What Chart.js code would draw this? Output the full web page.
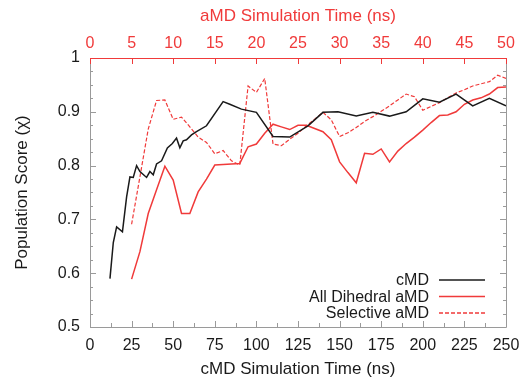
<!DOCTYPE html>
<html>
<head>
<meta charset="utf-8">
<script src="https://cdn.jsdelivr.net/npm/chart.js@4/dist/chart.umd.min.js"></script>
<style>
  body { margin: 0; background: #fff; }
</style>
</head>
<body>
<canvas id="population-chart" width="521" height="379"></canvas>
<script>
// cMD run, bottom axis (ns)
const cmdTime = [12, 14, 16, 19.5, 22, 24, 26, 28, 30, 34, 36, 38, 40, 43, 46.5, 49.5, 52, 54, 56, 58, 61, 64, 70,
    80, 84, 91, 100, 110, 120, 131, 140, 149, 160, 170, 180, 190, 200, 210, 220, 230, 240, 250];
const cmdScore = [0.590, 0.657, 0.686, 0.677, 0.742, 0.779, 0.778, 0.800, 0.789, 0.778, 0.789, 0.783, 0.803, 0.809,
    0.833, 0.841, 0.851, 0.833, 0.846, 0.848, 0.857, 0.863, 0.874,
    0.919, 0.914, 0.905, 0.899, 0.854, 0.853, 0.874, 0.899, 0.900, 0.892, 0.899, 0.892, 0.900, 0.924, 0.918,
    0.933, 0.911, 0.925, 0.911];

// aMD runs, top axis (ns)
const amdTime = [5, 6, 7, 8, 9, 10, 11, 12, 13, 14, 15, 16, 17, 18, 19, 20, 21, 22, 23, 24, 25, 26, 27, 28, 29,
    30, 31, 32, 33, 34, 35, 36, 37, 38, 39, 40, 41, 42, 43, 44, 45, 46, 47, 48, 49, 50];
const dihedralScore = [0.589, 0.640, 0.711, 0.755, 0.799, 0.773, 0.711, 0.711, 0.751, 0.775, 0.801, 0.802, 0.803,
    0.804, 0.835, 0.840, 0.860, 0.877, 0.872, 0.867, 0.875, 0.875, 0.869, 0.863, 0.848,
    0.807, 0.787, 0.768, 0.823, 0.821, 0.831, 0.807, 0.827, 0.841, 0.853, 0.866, 0.880, 0.893, 0.894, 0.900,
    0.914, 0.922, 0.926, 0.933, 0.945, 0.946];
const selectiveScore = [0.691, 0.779, 0.868, 0.921, 0.922, 0.886, 0.890, 0.872, 0.853, 0.843, 0.822, 0.828, 0.809,
    0.801, 0.948, 0.936, 0.962, 0.840, 0.837, 0.849, 0.860, 0.874, 0.886, 0.899, 0.885,
    0.854, 0.861, 0.871, 0.882, 0.891, 0.901, 0.911, 0.922, 0.933, 0.928, 0.903, 0.910, 0.917, 0.926, 0.935,
    0.941, 0.948, 0.952, 0.956, 0.968, 0.962];

const cmdTicks = [0, 25, 50, 75, 100, 125, 150, 175, 200, 225, 250];
const amdTicks = [0, 5, 10, 15, 20, 25, 30, 35, 40, 45, 50];
const yTicks = [0.5, 0.6, 0.7, 0.8, 0.9, 1];

const RED = '#f03a3a';
const GREY = '#9a9a9a';
const INK = '#1a1a1a';
const FONT = "'Liberation Sans', Arial, sans-serif";

const pts = (xs, ys) => xs.map((x, i) => ({x: x, y: ys[i]}));
const setTicks = list => scale => { scale.ticks = list.map(v => ({value: v})); };
// fixed axis box, no extra room for overhanging end labels
const fixSize = (w, h) => scale => {
    if (w) scale.width = w;
    if (h) scale.height = h;
    scale.paddingLeft = scale.paddingRight = scale.paddingTop = scale.paddingBottom = 0;
};

// gnuplot-style frame with inward ticks
const frameTicks = {
    id: 'frameTicks',
    afterDatasetsDraw(chart) {
        const {ctx, chartArea: {left, right, top, bottom}, scales} = chart;
        ctx.save();
        ctx.lineWidth = 1;
        ctx.strokeStyle = GREY;
        ctx.beginPath();
        // y ticks, both sides
        for (let v = 0.5; v <= 1.0001; v += 0.025) {
            const major = Math.abs(v * 10 - Math.round(v * 10)) < 1e-6;
            const len = major ? 6 : 3;
            const y = Math.round(scales.y.getPixelForValue(v)) + 0.5;
            ctx.moveTo(left, y); ctx.lineTo(left + len, y);
            ctx.moveTo(right, y); ctx.lineTo(right - len, y);
        }
        // bottom ticks
        for (let v = 0; v <= 250; v += 12.5) {
            const len = v % 25 === 0 ? 6 : 4;
            const x = Math.round(scales.x.getPixelForValue(v)) + 0.5;
            ctx.moveTo(x, bottom); ctx.lineTo(x, bottom - len);
        }
        ctx.moveTo(left + 0.5, top); ctx.lineTo(left + 0.5, bottom + 0.5);
        ctx.lineTo(right + 0.5, bottom + 0.5); ctx.lineTo(right + 0.5, top);
        ctx.stroke();

        ctx.strokeStyle = RED;
        ctx.beginPath();
        amdTicks.forEach(v => {
            const x = Math.round(scales.x2.getPixelForValue(v)) + 0.5;
            ctx.moveTo(x, top); ctx.lineTo(x, top + 6);
        });
        ctx.moveTo(left, top + 0.5); ctx.lineTo(right + 1, top + 0.5);
        ctx.stroke();
        ctx.restore();
    }
};

// key in the lower right, text before the line sample
const insideKey = {
    id: 'insideKey',
    afterDatasetsDraw(chart) {
        const {ctx, chartArea: {right, bottom}} = chart;
        ctx.save();
        ctx.font = '16px ' + FONT;
        ctx.textAlign = 'right';
        ctx.textBaseline = 'middle';
        chart.data.datasets.forEach((ds, i) => {
            const y = bottom - 47 + i * 16.5;
            ctx.fillStyle = INK;
            ctx.fillText(ds.label, right - 77, y + 1);
            ctx.strokeStyle = ds.borderColor;
            ctx.lineWidth = 1.5;
            ctx.setLineDash(ds.borderDash || []);
            ctx.beginPath();
            ctx.moveTo(right - 67, y);
            ctx.lineTo(right - 21, y);
            ctx.stroke();
        });
        ctx.restore();
    }
};

const ctx = document.getElementById('population-chart');

new Chart(ctx, {
    type: 'line',
    data: {
        datasets: [{
            label: 'cMD',
            data: pts(cmdTime, cmdScore),
            xAxisID: 'x',
            borderColor: INK,
            borderWidth: 1.5
        }, {
            label: 'All Dihedral aMD',
            data: pts(amdTime, dihedralScore),
            xAxisID: 'x2',
            borderColor: RED,
            borderWidth: 1.5
        }, {
            label: 'Selective aMD',
            data: pts(amdTime, selectiveScore),
            xAxisID: 'x2',
            borderColor: RED,
            borderWidth: 1.2,
            borderDash: [4, 2]
        }]
    },
    options: {
        responsive: false,
        animation: false,
        layout: {padding: {left: 0, right: 15, top: 0, bottom: 0}},
        elements: {point: {radius: 0}, line: {tension: 0, fill: false}},
        plugins: {legend: {display: false}, tooltip: {enabled: false}},
        scales: {
            x: {
                type: 'linear', position: 'bottom', min: 0, max: 250,
                afterBuildTicks: setTicks(cmdTicks),
                afterFit: fixSize(0, 52),
                grid: {display: false, drawTicks: false}, border: {display: false},
                ticks: {color: INK, padding: 9, maxRotation: 0, font: {family: FONT, size: 16}},
                title: {display: true, text: 'cMD Simulation Time (ns)', color: INK,
                    font: {family: FONT, size: 17}, padding: {top: 0, bottom: -1}}
            },
            x2: {
                type: 'linear', position: 'top', min: 0, max: 50,
                afterBuildTicks: setTicks(amdTicks),
                afterFit: fixSize(0, 58),
                grid: {display: false, drawTicks: false}, border: {display: false},
                ticks: {color: RED, padding: 5, maxRotation: 0, font: {family: FONT, size: 16}},
                title: {display: true, text: 'aMD Simulation Time (ns)', color: RED,
                    font: {family: FONT, size: 17}, padding: {top: 6, bottom: 0}}
            },
            y: {
                min: 0.5, max: 1,
                afterBuildTicks: setTicks(yTicks),
                afterFit: fixSize(90, 0),
                grid: {display: false, drawTicks: false}, border: {display: false},
                ticks: {color: INK, padding: 10, font: {family: FONT, size: 16},
                    callback: v => v === 1 ? '1' : v.toFixed(1)},
                title: {display: true, text: 'Population Score (χ)', color: INK,
                    font: {family: FONT, size: 17}, padding: {top: 12, bottom: 0}}
            }
        }
    },
    plugins: [frameTicks, insideKey]
});
</script>
</body>
</html>
